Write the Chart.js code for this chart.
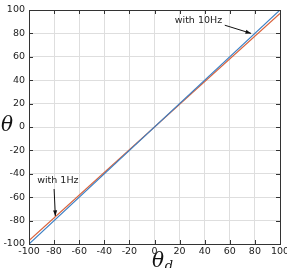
<!DOCTYPE html>
<html>
<head>
<meta charset="utf-8">
<script src="https://cdn.jsdelivr.net/npm/chart.js@4"></script>
<style>
  html, body { margin: 0; padding: 0; background: #fff; }
  #wrap { width: 287px; height: 268px; }
</style>
</head>
<body>
<div id="wrap"><canvas id="c"></canvas></div>
<script>
const desired = [-100, 100];
const with10Hz = [-100, 100];
const with1Hz = [-97, 97];
const ticks = [-100, -80, -60, -40, -20, 0, 20, 40, 60, 80, 100];

// annotation anchors in data units: [text, textX, textY, fromX, fromY, toX, toY]
const note10 = ["with 10Hz", 35, 91, 56, 87, 77, 80];
const note1 = ["with 1Hz", -77, -46, -80, -53, -79, -76];

const toPts = (ys) => desired.map((x, i) => ({ x: x, y: ys[i] }));

const extras = {
  id: "extras",
  afterDraw(chart) {
    const ctx = chart.ctx;
    const xs = chart.scales.x, ys = chart.scales.y;
    const a = chart.chartArea;
    ctx.save();
    ctx.strokeStyle = "#333";
    ctx.lineWidth = 1;
    // box
    ctx.strokeRect(Math.round(a.left) + 0.5, Math.round(a.top) + 0.5,
      Math.round(a.right - a.left), Math.round(a.bottom - a.top));
    // inward tick marks on all sides
    ticks.forEach((t) => {
      const px = Math.round(xs.getPixelForValue(t)) + 0.5;
      const py = Math.round(ys.getPixelForValue(t)) + 0.5;
      ctx.beginPath();
      ctx.moveTo(px, a.bottom); ctx.lineTo(px, a.bottom - 4);
      ctx.moveTo(px, a.top); ctx.lineTo(px, a.top + 4);
      ctx.moveTo(a.left, py); ctx.lineTo(a.left + 4, py);
      ctx.moveTo(a.right, py); ctx.lineTo(a.right - 4, py);
      ctx.stroke();
    });
    // annotations
    [note10, note1].forEach((n) => {
      ctx.fillStyle = "#222";
      ctx.font = "9.5px 'DejaVu Sans'";
      ctx.textAlign = "center";
      ctx.textBaseline = "middle";
      const tx = xs.getPixelForValue(n[1]), ty = ys.getPixelForValue(n[2]);
      ctx.fillText(n[0], tx, ty);
      const x1 = xs.getPixelForValue(n[3]), y1 = ys.getPixelForValue(n[4]);
      const x2 = xs.getPixelForValue(n[5]), y2 = ys.getPixelForValue(n[6]);
      ctx.strokeStyle = "#111";
      ctx.beginPath(); ctx.moveTo(x1, y1); ctx.lineTo(x2, y2); ctx.stroke();
      const ang = Math.atan2(y2 - y1, x2 - x1);
      ctx.beginPath();
      ctx.moveTo(x2, y2);
      ctx.lineTo(x2 - 6 * Math.cos(ang - 0.35), y2 - 6 * Math.sin(ang - 0.35));
      ctx.lineTo(x2 - 6 * Math.cos(ang + 0.35), y2 - 6 * Math.sin(ang + 0.35));
      ctx.closePath();
      ctx.fillStyle = "#111";
      ctx.fill();
    });
    // axis titles
    ctx.fillStyle = "#111";
    ctx.font = "italic 20px 'DejaVu Serif'";
    ctx.textAlign = "center";
    ctx.textBaseline = "middle";
    ctx.fillText("\u03B8", 7, 126);
    ctx.fillText("\u03B8", 158, 262);
    ctx.font = "italic 13px 'DejaVu Serif'";
    ctx.fillText("d", 169, 267);
    ctx.restore();
  }
};

new Chart(document.getElementById("c"), {
  type: "scatter",
  data: {
    datasets: [
      { label: "with 10Hz", data: toPts(with10Hz), showLine: true, borderColor: "#3b7fc4", borderWidth: 1.2, pointRadius: 0 },
      { label: "with 1Hz", data: toPts(with1Hz), showLine: true, borderColor: "#d9623b", borderWidth: 1.2, pointRadius: 0 }
    ]
  },
  plugins: [extras],
  options: {
    responsive: true,
    maintainAspectRatio: false,
    animation: false,
    layout: { padding: { top: 10, right: 7, left: 0, bottom: 0 } },
    plugins: { legend: { display: false }, tooltip: { enabled: false } },
    scales: {
      x: {
        type: "linear", min: -100, max: 100,
        afterBuildTicks: (s) => { s.ticks = ticks.map((v) => ({ value: v })); },
        afterFit: (s) => { s.height = 24; s.paddingLeft = 0; s.paddingRight = 0; },
        border: { color: "#333", width: 1 },
        grid: { color: "#dedede", drawTicks: false },
        ticks: { color: "#222", font: { family: "DejaVu Sans", size: 9.5 }, padding: 2, maxRotation: 0, autoSkip: false }
      },
      y: {
        type: "linear", min: -100, max: 100,
        afterBuildTicks: (s) => { s.ticks = ticks.map((v) => ({ value: v })); },
        afterFit: (s) => { s.width = 29; s.paddingTop = 0; s.paddingBottom = 0; },
        border: { color: "#333", width: 1 },
        grid: { color: "#dedede", drawTicks: false },
        ticks: { color: "#222", font: { family: "DejaVu Sans", size: 9.5 }, padding: 4, autoSkip: false }
      }
    }
  }
});
</script>
</body>
</html>
